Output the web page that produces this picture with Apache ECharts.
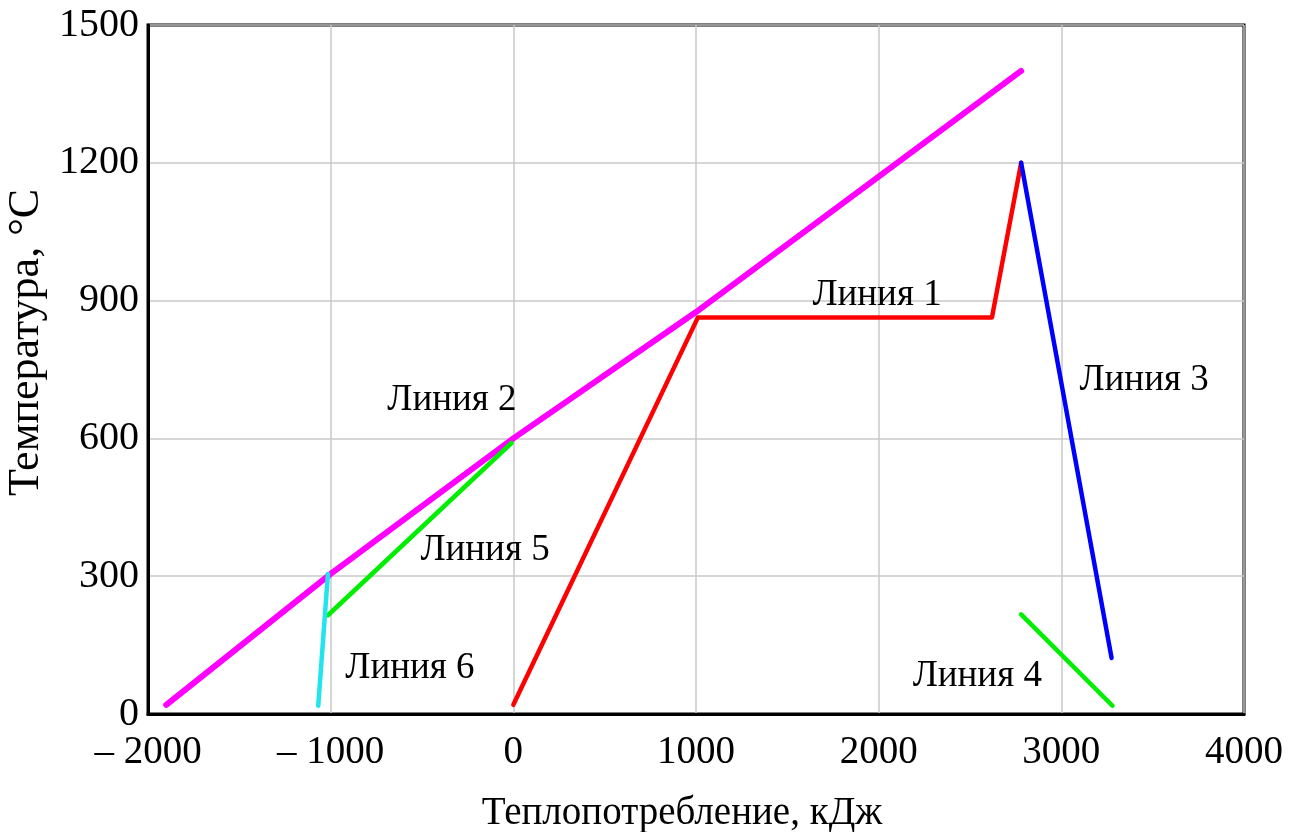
<!DOCTYPE html>
<html><head><meta charset="utf-8">
<script src="https://cdn.jsdelivr.net/npm/echarts@6/dist/echarts.min.js"></script>
<style>html,body{margin:0;padding:0;background:#fff}#c{width:1300px;height:832px}</style>
</head><body><div id="c"></div>
<script>
// Data: [heat consumption kJ, temperature °C]
const line2 = [[-1900,20],[-1000,305],[0,600],[1000,875],[2000,1170],[2780,1400]]; // magenta
const line1 = [[0,20],[1010,863],[2620,863],[2780,1200]];   // red
const line3 = [[2780,1200],[3275,122]];                      // blue
const line4 = [[2780,217],[3280,18]];                        // green (right)
const line5 = [[-1015,215],[-10,590]];                       // green (left)
const line6 = [[-1015,305],[-1068,18]];                      // cyan
const labels = [
  {name:'Линия 1', value:[1991,912]},
  {name:'Линия 2', value:[-336,684]},
  {name:'Линия 3', value:[3453,727]},
  {name:'Линия 4', value:[2540,83]},
  {name:'Линия 5', value:[-155,357]},
  {name:'Линия 6', value:[-566,100]}
];
const xTicks = {min:-2000, max:4000, step:1000};
const yTicks = {min:0, max:1500, step:300};
const xTitle = 'Теплопотребление, кДж';
const yTitle = 'Температура, °С';

const font = '"Liberation Serif","Times New Roman",serif';
function ln(data, color, w){
  return {type:'line', data:data, showSymbol:false, symbol:'none', animation:false,
    lineStyle:{color:color, width:w, cap:'round', join:'round'}, z:3};
}
const chart = echarts.init(document.getElementById('c'));
chart.setOption({
  animation:false,
  grid:{left:148, right:56, top:25, bottom:118, outerBoundsMode:'none', containLabel:false,
    show:true, borderColor:'#000', borderWidth:3, backgroundColor:'#fff'},
  xAxis:{type:'value', min:xTicks.min, max:xTicks.max, interval:xTicks.step,
    name:xTitle, nameLocation:'middle', nameGap:80,
    nameTextStyle:{fontFamily:font, fontSize:39, color:'#000', padding:[0,28,0,0]},
    axisLine:{show:true, onZero:false, lineStyle:{color:'#000', width:3}},
    axisTick:{show:false},
    axisLabel:{fontFamily:font, fontSize:39, color:'#000', margin:19,
      formatter:v => v<0 ? '\u2013 ' + Math.abs(v) : String(v)},
    splitLine:{show:true, lineStyle:{color:'#c8c8c8', width:1.5}}
  },
  yAxis:{type:'value', min:yTicks.min, max:yTicks.max, interval:yTicks.step,
    name:yTitle, nameLocation:'middle', nameGap:97, nameRotate:90,
    nameTextStyle:{fontFamily:font, fontSize:44, color:'#000', padding:[0,0,0,54]},
    axisLine:{show:true, onZero:false, lineStyle:{color:'#000', width:3}},
    axisTick:{show:false},
    axisLabel:{fontFamily:font, fontSize:40, color:'#000', margin:9, padding:[8,0,0,0],
      formatter:v => String(v)},
    splitLine:{show:true, lineStyle:{color:'#c8c8c8', width:1.5}}
  },
  series:[
    ln(line2,'#ff00ff',6),
    ln(line1,'#ff0000',4.5),
    ln(line3,'#0000ff',4.5),
    ln(line4,'#00ee00',4.5),
    ln(line5,'#00ee00',4.5),
    ln(line6,'#22e4ee',4.5),
    {type:'scatter', data:labels, symbolSize:1, silent:true, z:5,
      itemStyle:{opacity:1, color:'rgba(0,0,0,0)'},
      label:{show:true, position:'inside', formatter:p=>p.name, opacity:1,
        fontFamily:font, fontSize:37, color:'#000'}}
  ]
});
</script></body></html>
